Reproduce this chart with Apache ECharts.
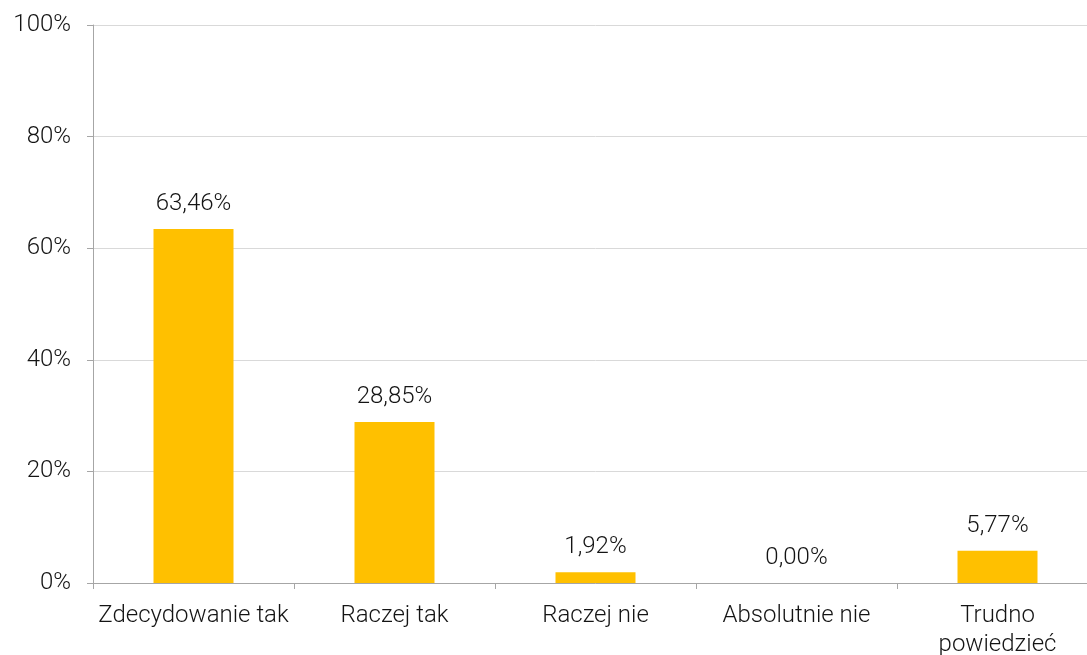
<!DOCTYPE html>
<html>
<head>
<meta charset="utf-8">
<script src="https://cdn.jsdelivr.net/npm/echarts@6/dist/echarts.min.js"></script>
<style>
  html, body { margin: 0; padding: 0; background: #fff; overflow: hidden; }
  #chart { width: 1098px; height: 655px; }
</style>
</head>
<body>
<div id="chart"></div>
<script>
const categories = ['Zdecydowanie tak', 'Raczej tak', 'Raczej nie', 'Absolutnie nie', 'Trudno\npowiedzieć'];
const values = [63.46, 28.85, 1.92, 0.00, 5.77];
const yTicks = [0, 20, 40, 60, 80, 100];

const font = 'Roboto, "Noto Sans", sans-serif';
const textColor = '#141414';

const chart = echarts.init(document.getElementById('chart'));
chart.setOption({
    animation: false,
    grid: { left: 93, right: 0, top: 25, bottom: 72, outerBoundsMode: 'none' },
    xAxis: {
        type: 'category',
        data: categories,
        axisLine: { lineStyle: { color: '#a6a6a6', width: 1 } },
        axisTick: { show: true, length: 6, lineStyle: { color: '#a6a6a6' } },
        axisLabel: {
            color: textColor, fontSize: 24, fontFamily: font, fontWeight: 300,
            margin: 18, lineHeight: 29, interval: 0
        }
    },
    yAxis: {
        type: 'value',
        min: yTicks[0],
        max: yTicks[yTicks.length - 1],
        interval: 20,
        axisLine: { show: true, lineStyle: { color: '#a6a6a6', width: 1 } },
        axisTick: { show: true, length: 6, lineStyle: { color: '#a6a6a6' } },
        splitLine: { lineStyle: { color: '#d9d9d9', width: 1 } },
        axisLabel: {
            color: textColor, fontSize: 24, fontFamily: font, fontWeight: 300,
            margin: 22, formatter: v => v + '%'
        }
    },
    series: [{
        type: 'bar',
        data: values,
        barWidth: 80,
        itemStyle: { color: '#ffc000' },
        label: {
            show: true,
            position: 'top',
            distance: 13,
            color: textColor, fontSize: 24, fontFamily: font, fontWeight: 300,
            formatter: p => p.value.toFixed(2).replace('.', ',') + '%'
        }
    }]
});
</script>
</body>
</html>
